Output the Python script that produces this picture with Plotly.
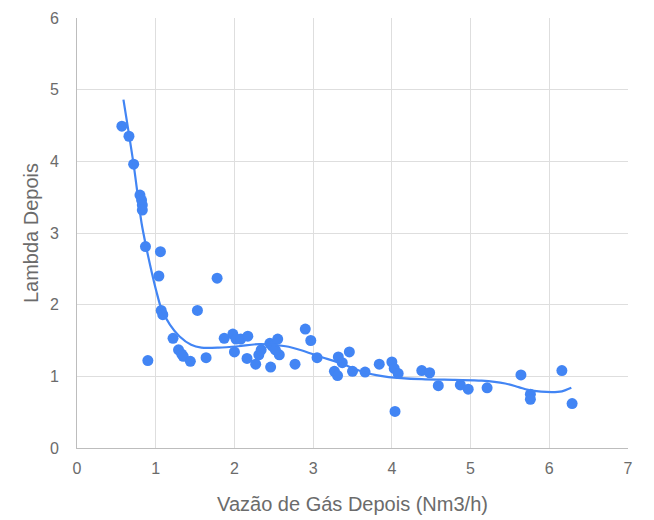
import plotly.graph_objects as go

# Scatter data
flow = [0.57, 0.66, 0.72, 0.80, 0.82, 0.83, 0.83, 0.87, 1.06, 1.04, 1.07, 1.09, 0.90,
        1.22, 1.29, 1.33, 1.35, 1.44, 1.53, 1.64, 1.78, 1.87, 1.98, 2.02, 2.08, 2.00,
        2.17, 2.16, 2.27, 2.31, 2.34, 2.46, 2.45, 2.48, 2.55, 2.57, 2.52,
        2.77, 2.90, 2.97, 3.05, 3.32, 3.46, 3.37, 3.27, 3.31, 3.50, 3.66, 3.84,
        4.00, 4.03, 4.08, 4.04, 4.38, 4.48, 4.59, 4.87, 4.97, 5.21, 5.64, 5.76,
        5.76, 6.16, 6.29]
lam = [4.49, 4.35, 3.96, 3.53, 3.46, 3.39, 3.32, 2.81, 2.74, 2.40, 1.92, 1.86, 1.22,
       1.53, 1.37, 1.31, 1.28, 1.21, 1.92, 1.26, 2.37, 1.53, 1.59, 1.52, 1.52, 1.34,
       1.56, 1.25, 1.17, 1.30, 1.37, 1.13, 1.46, 1.42, 1.52, 1.30, 1.37,
       1.17, 1.66, 1.50, 1.26, 1.27, 1.34, 1.19, 1.07, 1.01, 1.07, 1.06, 1.17,
       1.20, 1.11, 1.04, 0.51, 1.08, 1.05, 0.87, 0.88, 0.82, 0.84, 1.02, 0.75,
       0.68, 1.08, 0.62]

# Trend line
trend_x = [0.59, 0.72, 0.82, 0.88, 0.95, 1.01, 1.07, 1.18, 1.30, 1.45, 1.58, 1.80,
           2.05, 2.32, 2.65, 2.86, 3.07, 3.33, 3.67, 3.96, 4.38, 4.80, 5.14, 5.44,
           5.61, 5.78, 6.03, 6.16, 6.28]
trend_y = [4.86, 3.95, 3.14, 2.80, 2.45, 2.18, 1.95, 1.72, 1.56, 1.44, 1.40, 1.40,
           1.42, 1.45, 1.42, 1.36, 1.28, 1.19, 1.05, 0.99, 0.96, 0.95, 0.94, 0.90,
           0.85, 0.80, 0.78, 0.79, 0.84]

x_ticks = [0, 1, 2, 3, 4, 5, 6, 7]
y_ticks = [0, 1, 2, 3, 4, 5, 6]

blue = "#4285f4"
grey_text = "#6b6b6b"

fig = go.Figure()
fig.add_trace(go.Scatter(x=flow, y=lam, mode="markers",
                         marker=dict(color=blue, size=11, line=dict(width=0)),
                         showlegend=False, hoverinfo="x+y"))
fig.add_trace(go.Scatter(x=trend_x, y=trend_y, mode="lines",
                         line=dict(color=blue, width=2.2, shape="spline", smoothing=0.8),
                         showlegend=False, hoverinfo="skip"))

font_family = "Liberation Sans, Arial, sans-serif"
fig.update_layout(
    width=654, height=520,
    margin=dict(l=69, r=34, t=10, b=80, autoexpand=False),
    paper_bgcolor="white", plot_bgcolor="white",
    font=dict(family=font_family, color=grey_text, size=16),
    xaxis=dict(range=[0, 7], tickvals=x_ticks, ticktext=[str(v) for v in x_ticks],
               showgrid=True, gridcolor="#dedede", gridwidth=1, automargin=False,
               zeroline=False, showline=True, linecolor="#bdbdbd", linewidth=1,
               ticks="", ticklabelstandoff=6, ticklabeloverflow="allow",
               tickfont=dict(size=16, color=grey_text),
               title=dict(text="Vazão de Gás Depois (Nm3/h)", font=dict(size=20, color=grey_text),
                          standoff=20)),
    yaxis=dict(range=[0, 6], tickvals=y_ticks, ticktext=[str(v) for v in y_ticks],
               showgrid=True, gridcolor="#dedede", gridwidth=1, automargin=False,
               zeroline=False, showline=True, linecolor="#bdbdbd", linewidth=1,
               ticks="", ticklabelstandoff=14, ticklabeloverflow="allow",
               tickfont=dict(size=16, color=grey_text),
               title=dict(text="Lambda Depois", font=dict(size=20, color=grey_text),
                          standoff=5)),
)

fig.write_html("out.html")
